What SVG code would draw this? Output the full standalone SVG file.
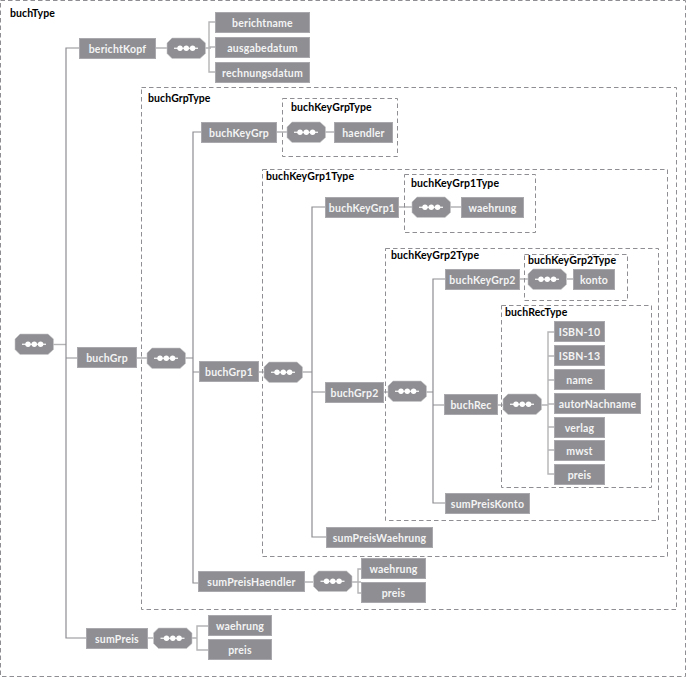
<svg xmlns="http://www.w3.org/2000/svg" xmlns:xlink="http://www.w3.org/1999/xlink" width="686" height="677" viewBox="0 0 686 677">
<style>
.n{fill:#8e8e93;stroke:#a9a9ad;stroke-width:1}
.t{font-family:Lato,"Liberation Sans",sans-serif;font-size:10.500px;font-weight:700;fill:#f4f4f4;text-anchor:middle;letter-spacing:.2px}
.h{font-family:Lato,"Liberation Sans",sans-serif;font-size:10.500px;font-weight:700;fill:#000;letter-spacing:.1px}
.b{fill:none;stroke:#8e8e93;stroke-width:1;stroke-dasharray:4.500 3}
.c{fill:none;stroke:#8e8e93;stroke-width:1.2}
.l{fill:none;stroke:#b4b4b6;stroke-width:1.4}
.s{fill:#8e8e93;stroke:#c9c9cb;stroke-width:.6}
.i{stroke:#fff;stroke-width:1.2}
</style>
<defs>
<g id="seq">
<path class="s" d="M5 0H33L38.500 5V15.500L33 20.500H5L0 15.500V5Z"/>
<path class="i" d="M7 10.250H31"/>
<circle cx="13" cy="10.250" r="2.700" fill="#fff"/><circle cx="19.300" cy="10.250" r="2.700" fill="#fff"/><circle cx="25.600" cy="10.250" r="2.700" fill="#fff"/>
</g>
</defs>
<rect width="686" height="677" fill="#fff"/>
<g id="types">
<rect class="b" x="0.500" y="0.500" width="685" height="676"/><text class="h" x="10" y="17">buchType</text>
<rect class="b" x="141.500" y="87.500" width="535" height="522"/><text class="h" x="148" y="102">buchGrpType</text>
<rect class="b" x="282.500" y="98.500" width="115" height="58"/><text class="h" x="291" y="111">buchKeyGrpType</text>
<rect class="b" x="262.500" y="169.500" width="405" height="387"/><text class="h" x="266" y="180">buchKeyGrp1Type</text>
<rect class="b" x="404.500" y="174.500" width="131" height="58"/><text class="h" x="411" y="187">buchKeyGrp1Type</text>
<rect class="b" x="385.500" y="248.500" width="273" height="272"/><text class="h" x="391" y="259">buchKeyGrp2Type</text>
<rect class="b" x="524.500" y="254.500" width="103" height="46"/><text class="h" x="528" y="264">buchKeyGrp2Type</text>
<rect class="b" x="501.500" y="305.500" width="150" height="182"/><text class="h" x="505" y="316">buchRecType</text>
</g>
<g id="connectors">
<path class="l" d="M53 344.500H66"/>
<path class="c" d="M79 48H66V638H86M66 358H77M155 48H167"/>
<path class="l" d="M205 48H211M215 22H209V72H215M209 47H215"/>
<path class="c" d="M137 358H147M185 358H193M201 132H193V583H198M193 372H199M276 132H287M325 132H334M259 372H264"/>
<path class="c" d="M302 372H312M325 207H312V537H326M312 392H325M399 207H412M450 207H461M383 392H388"/>
<path class="c" d="M426 392H433M445 279H433V503H445M433 405H444M519 279H528M567 279H573M497 405H503M541 405H548"/>
<path class="l" d="M554 332H548V474H554M548 356H554M548 380H554M548 404H554M548 427H554M548 450H554"/>
<path class="l" d="M305 582H313M352 582H358M361 569H358V593H361M358 582H361M148 638H153M192 638H197M208 626H197V650H208"/>
</g>
<g id="root-seq"><use href="#seq" x="15" y="334"/></g>
<g id="berichtKopf"><rect class="n" x="79.500" y="38.500" width="76" height="20"/><text class="t" x="117.500" y="52.500">berichtKopf</text></g>
<g id="berichtKopf-seq"><use href="#seq" x="167" y="38"/></g>
<g id="berichtname"><rect class="n" x="215.500" y="12.500" width="94" height="20"/><text class="t" x="262.500" y="26.500">berichtname</text></g>
<g id="ausgabedatum"><rect class="n" x="215.500" y="37.500" width="94" height="20"/><text class="t" x="262.500" y="51.500">ausgabedatum</text></g>
<g id="rechnungsdatum"><rect class="n" x="215.500" y="62.500" width="94" height="20"/><text class="t" x="262.500" y="76.500">rechnungsdatum</text></g>
<g id="buchGrp"><rect class="n" x="77.500" y="347.500" width="59" height="20"/><text class="t" x="107" y="362">buchGrp</text></g>
<g id="buchGrp-seq"><use href="#seq" x="147" y="348"/></g>
<g id="buchKeyGrp"><rect class="n" x="201.500" y="122.500" width="75" height="20"/><text class="t" x="239" y="136.500">buchKeyGrp</text></g>
<g id="buchKeyGrp-seq"><use href="#seq" x="287" y="122"/></g>
<g id="haendler"><rect class="n" x="334.500" y="122.500" width="58" height="20"/><text class="t" x="363.500" y="136.500">haendler</text></g>
<g id="buchGrp1"><rect class="n" x="199.500" y="361.500" width="59" height="20"/><text class="t" x="229" y="376">buchGrp1</text></g>
<g id="buchGrp1-seq"><use href="#seq" x="264" y="362"/></g>
<g id="buchKeyGrp1"><rect class="n" x="325.500" y="197.500" width="73" height="20"/><text class="t" x="362" y="211.500">buchKeyGrp1</text></g>
<g id="buchKeyGrp1-seq"><use href="#seq" x="412" y="197"/></g>
<g id="waehrung1"><rect class="n" x="461.500" y="197.500" width="62" height="20"/><text class="t" x="492.500" y="211.500">waehrung</text></g>
<g id="buchGrp2"><rect class="n" x="325.500" y="382.500" width="58" height="20"/><text class="t" x="354.500" y="396.500">buchGrp2</text></g>
<g id="buchGrp2-seq"><use href="#seq" x="388" y="381"/></g>
<g id="buchKeyGrp2"><rect class="n" x="445.500" y="269.500" width="74" height="20"/><text class="t" x="482.500" y="283.500">buchKeyGrp2</text></g>
<g id="buchKeyGrp2-seq"><use href="#seq" x="528" y="269"/></g>
<g id="konto"><rect class="n" x="573.500" y="269.500" width="41" height="20"/><text class="t" x="594" y="283.500">konto</text></g>
<g id="buchRec"><rect class="n" x="444.500" y="394.500" width="53" height="20"/><text class="t" x="471" y="408.500">buchRec</text></g>
<g id="buchRec-seq"><use href="#seq" x="503" y="394"/></g>
<g id="isbn10"><rect class="n" x="554.500" y="321.500" width="50" height="20"/><text class="t" x="579.500" y="336">ISBN-10</text></g>
<g id="isbn13"><rect class="n" x="554.500" y="345.500" width="50" height="20"/><text class="t" x="579.500" y="360">ISBN-13</text></g>
<g id="name"><rect class="n" x="554.500" y="369.500" width="50" height="20"/><text class="t" x="579.500" y="384">name</text></g>
<g id="autorNachname"><rect class="n" x="554.500" y="393.500" width="86" height="20"/><text class="t" x="597.500" y="408">autorNachname</text></g>
<g id="verlag"><rect class="n" x="554.500" y="417.500" width="50" height="20"/><text class="t" x="579.500" y="431.500">verlag</text></g>
<g id="mwst"><rect class="n" x="554.500" y="440.500" width="50" height="20"/><text class="t" x="579.500" y="454.500">mwst</text></g>
<g id="preis1"><rect class="n" x="554.500" y="464.500" width="50" height="20"/><text class="t" x="579.500" y="478.500">preis</text></g>
<g id="sumPreisKonto"><rect class="n" x="445.500" y="493.500" width="84" height="20"/><text class="t" x="487.500" y="507.500">sumPreisKonto</text></g>
<g id="sumPreisWaehrung"><rect class="n" x="326.500" y="527.500" width="106" height="20"/><text class="t" x="379.500" y="541.500">sumPreisWaehrung</text></g>
<g id="sumPreisHaendler"><rect class="n" x="198.500" y="571.500" width="106" height="20"/><text class="t" x="251.500" y="586">sumPreisHaendler</text></g>
<g id="sumPreisHaendler-seq"><use href="#seq" x="313.500" y="571"/></g>
<g id="waehrung2"><rect class="n" x="361.500" y="558.500" width="64" height="20"/><text class="t" x="393.500" y="573">waehrung</text></g>
<g id="preis2"><rect class="n" x="361.500" y="582.500" width="64" height="20"/><text class="t" x="393.500" y="597">preis</text></g>
<g id="sumPreis"><rect class="n" x="86.500" y="628.500" width="61" height="20"/><text class="t" x="117" y="642.500">sumPreis</text></g>
<g id="sumPreis-seq"><use href="#seq" x="153.500" y="628"/></g>
<g id="waehrung3"><rect class="n" x="208.500" y="615.500" width="63" height="20"/><text class="t" x="240" y="630">waehrung</text></g>
<g id="preis3"><rect class="n" x="208.500" y="639.500" width="63" height="20"/><text class="t" x="240" y="654">preis</text></g>
</svg>
